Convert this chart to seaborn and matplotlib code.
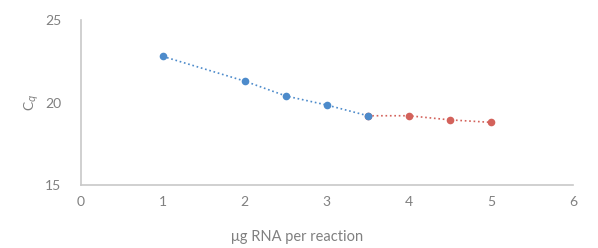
import pandas as pd
import matplotlib.pyplot as plt
import seaborn as sns

low_rna = [1, 2, 2.5, 3, 3.5]
low_cq = [22.8, 21.3, 20.4, 19.85, 19.2]
high_rna = [3.5, 4, 4.5, 5]
high_cq = [19.2, 19.2, 18.95, 18.8]

low = pd.DataFrame({'rna': low_rna, 'cq': low_cq})
high = pd.DataFrame({'rna': high_rna, 'cq': high_cq})

sns.set_style('white')
plt.rcParams['font.family'] = ['Lato', 'DejaVu Sans']

fig = plt.figure(figsize=(5.98, 2.48), dpi=100)
ax = fig.add_axes([0.135, 0.254, 0.823, 0.665])

sns.lineplot(x='rna', y='cq', data=high, ax=ax, color='#d3625b', linestyle=':',
             linewidth=1.2, marker='o', markersize=5.5, markeredgewidth=0)
sns.lineplot(x='rna', y='cq', data=low, ax=ax, color='#4d8bcb', linestyle=':',
             linewidth=1.2, marker='o', markersize=5.5, markeredgewidth=0)

ax.set_xlim(0, 6)
ax.set_ylim(15, 25)
ax.set_xticks(range(0, 7))
ax.set_yticks([15, 20, 25])
ax.set_xlabel('μg RNA per reaction', color='#808080', fontsize=10.5)
ax.set_ylabel('C$_q$', color='#808080', fontsize=10, rotation=90)
ax.xaxis.set_label_coords(0.44, -0.27)
ax.yaxis.set_label_coords(-0.08, 0.5)

for side in ['top', 'right']:
    ax.spines[side].set_visible(False)
for side in ['left', 'bottom']:
    ax.spines[side].set_color('#c8c8c8')
    ax.spines[side].set_linewidth(1.2)
ax.tick_params(colors='#808080', labelsize=10, length=0, pad=8)
ax.tick_params(axis='y', pad=14)

fig.savefig('out.png', dpi=100)
